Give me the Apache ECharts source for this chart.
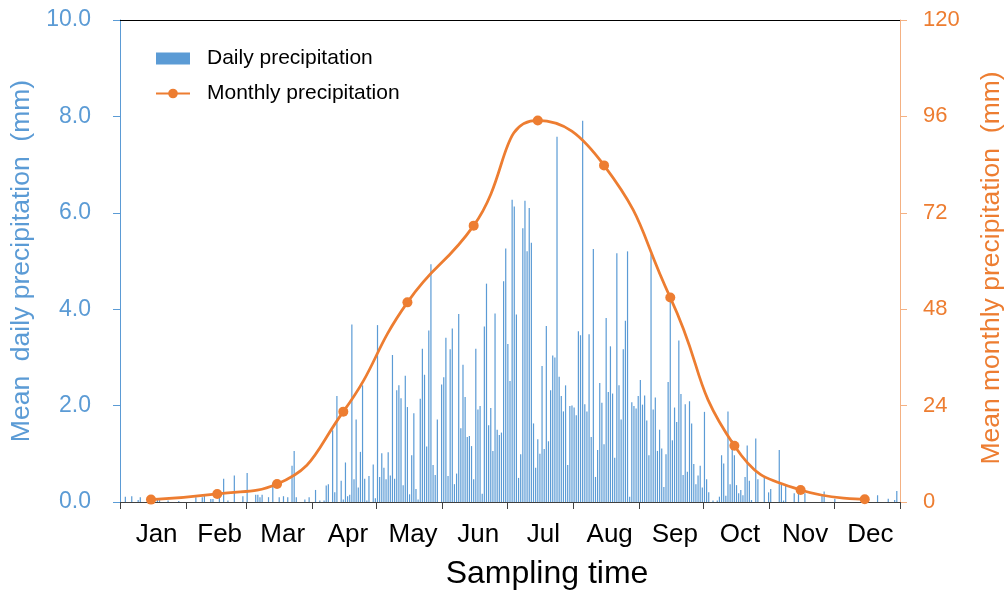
<!DOCTYPE html>
<html>
<head>
<meta charset="utf-8">
<script src="https://cdn.jsdelivr.net/npm/echarts@6/dist/echarts.min.js"></script>
<style>
  html, body { margin: 0; padding: 0; background: #fff; overflow: hidden; }
  #chart { width: 1005px; height: 590px; }
</style>
</head>
<body>
<div id="chart"></div>
<script>
// ---- Data ----
const months = ['Jan','Feb','Mar','Apr','May','Jun','Jul','Aug','Sep','Oct','Nov','Dec'];
const monthLengths = [31,28,31,30,31,30,31,31,30,31,30,31];

// Daily mean precipitation (mm), one array per month
const dailyJan = [0,0,0.11,0,0,0.12,0,0,0.04,0.1, 0,0,0,0.05,0,0,0,0.05,0.04,0, 0,0,0.03,0,0,0,0,0.02,0,0, 0];
const dailyFeb = [0,0,0,0,0.1,0,0,0.1,0.15,0, 0,0.06,0.06,0,0,0.2,0,0.48,0,0.03, 0,0,0.55,0,0,0,0.12,0];
const dailyMar = [0.6,0,0,0,0.15,0.15,0.1,0.15,0,0, 0.1,0,0.4,0,0,0.1,0,0.12,0,0.1, 0,0.75,1.06,0.1,0,0,0,0.05,0,0.1, 0];
const dailyApr = [0,0.25,0,0.03,0,0.03,0.34,0.37,0,1.49, 0.2,2.2,0,0.44,0.05,0.82,0.12,0.15,3.68,0.47, 1.71,0.3,1.04,2.42,0.48,0.03,0.54,0,0.78,0.08];
const dailyMay = [3.67,0.52,1.01,0.71,0.47,1.03,0.55,3.05,0.48,2.32, 2.42,2.15,0.35,2.62,1.97,0.16,0.97,1.84,0.27,0.05, 2.14,3.18,2.64,1.15,3.56,4.93,0.77,0.56,1.71,0, 2.44];
const dailyJun = [2.59,3.41,0.54,3.17,3.6,0.37,0.59,3.9,1.53,2.85, 2.18,1.35,1.37,1.16,0.47,3.18,1.92,1.99,0.17,3.64, 4.53,1.59,1.95,1.06,3.91,1.5,1.39,1.44,4.58,5.26];
const dailyJul = [3.28,2.51,6.27,6.13,3.89,0.5,0.99,5.68,6.25,5.2, 6.1,5.38,1.63,0.71,1.3,1.0,2.82,1.1,3.65,1.26, 2.32,3.04,3.0,7.58,2.6,2.2,1.88,2.42,0.77,1.99, 2.0];
const dailyAug = [1.96,1.8,3.54,3.46,7.91,2.03,1.88,3.48,1.35,5.25, 0.52,1.08,2.47,2.06,1.2,3.82,2.28,3.23,2.25,0.92, 5.16,2.42,1.71,3.17,3.76,5.2,0.11,2.07,1.99,1.94, 2.2];
const dailySep = [2.53,2.02,2.21,1.69,0.97,5.15,1.92,2.17,1.06,1.5, 1.11,0.31,0.99,2.49,4.18,1.28,1.96,1.66,3.35,2.24, 0.56,2.03,0.63,2.09,1.63,0.79,0.37,0.55,0.75,0.3];
const dailyOct = [1.87,0.47,0.2,0,0.03,0,0.03,0.11,0.97,0.8, 0.13,1.88,0.37,1.28,0.97,0.35,0.18,0.25,0.14,0.52, 1.17,0.44,0.04,0,1.32,0.47,0,0,0.54,0, 0.2];
const dailyNov = [0.27,0,0,0,1.08,0.37,0.03,0.34,0,0, 0,0.18,0,0.23,0,0,0.18,0,0,0, 0,0,0,0,0.14,0.22,0,0,0,0];
const dailyDec = [0.07,0,0,0,0,0,0,0,0,0, 0,0,0,0,0,0,0,0,0,0, 0.14,0,0,0,0,0.07,0,0,0.04,0.23, 0];

// Monthly mean precipitation (mm), plotted on the 15th of each month
const monthlyPrecip = [0.6, 2.0, 4.5, 22.5, 49.7, 68.8, 95.0, 83.8, 50.9, 14.0, 3.0, 0.7];
const monthlyDayOfMonth = 15;

// Axis tick labels
const leftTicks = [0, 2, 4, 6, 8, 10];
const rightTicks = [0, 24, 48, 72, 96, 120];

// ---- Build series from the arrays ----
const dailyAll = [].concat(dailyJan, dailyFeb, dailyMar, dailyApr, dailyMay, dailyJun,
                           dailyJul, dailyAug, dailySep, dailyOct, dailyNov, dailyDec);
const monthStarts = [0];
monthLengths.forEach((l, i) => monthStarts.push(monthStarts[i] + l));
const monthMids = months.map((m, i) => (monthStarts[i] + monthStarts[i + 1]) / 2);
const barData = dailyAll.map((v, d) => [d + 0.5, v]);
const lineData = monthlyPrecip.map((v, i) => [monthStarts[i] + monthlyDayOfMonth - 0.5, v]);

const FONT = 'Liberation Sans, Arial, sans-serif';
const BLUE = '#5B9BD5';
const ORANGE = '#ED7D31';

const chart = echarts.init(document.getElementById('chart'), null, { renderer: 'canvas' });
chart.setOption({
  animation: false,
  textStyle: { fontFamily: FONT },
  grid: { left: 120, right: 105, top: 20, bottom: 88, outerBoundsMode: 'none', containLabel: false },
  legend: {
    orient: 'vertical',
    left: 150,
    top: 43,
    itemWidth: 34,
    itemHeight: 12,
    itemGap: 14,
    textStyle: { fontSize: 21, color: '#000', fontFamily: FONT, padding: [0, 0, 0, 12] },
    data: [
      { name: 'Daily precipitation', icon: 'rect' },
      { name: 'Monthly precipitation' }
    ]
  },
  xAxis: [
    {
      type: 'value', min: 0, max: 365, position: 'bottom',
      axisLine: { show: true, onZero: false, lineStyle: { color: '#404040', width: 1 } },
      axisTick: { show: true, customValues: monthStarts, length: 7, lineStyle: { color: '#404040' } },
      axisLabel: {
        customValues: monthMids,
        formatter: v => months[monthMids.indexOf(v)] || '',
        fontSize: 26, color: '#000', margin: 20, fontFamily: FONT, padding: [0, 0, 0, 7]
      },
      splitLine: { show: false },
      name: 'Sampling time', nameLocation: 'middle', nameGap: 56,
      nameTextStyle: { fontSize: 32, color: '#000', fontFamily: FONT, padding: [0, 0, 0, 74] }
    },
    {
      type: 'value', min: 0, max: 365, position: 'top',
      axisLine: { show: true, onZero: false, lineStyle: { color: '#000', width: 1 } },
      axisTick: { show: false }, axisLabel: { show: false }, splitLine: { show: false }
    }
  ],
  yAxis: [
    {
      type: 'value', min: leftTicks[0], max: leftTicks[leftTicks.length - 1], interval: 2, position: 'left',
      axisLine: { show: true, onZero: false, lineStyle: { color: BLUE, width: 1 } },
      axisTick: { show: true, length: 7, lineStyle: { color: BLUE } },
      axisLabel: { formatter: v => v.toFixed(1), fontSize: 23, color: BLUE, margin: 29, fontFamily: FONT },
      splitLine: { show: false },
      name: 'Mean  daily precipitation  (mm)', nameLocation: 'middle', nameGap: 82,
      nameTextStyle: { fontSize: 26.5, color: BLUE, fontFamily: FONT }
    },
    {
      type: 'value', min: rightTicks[0], max: rightTicks[rightTicks.length - 1], interval: 24, position: 'right',
      axisLine: { show: true, onZero: false, lineStyle: { color: '#F4B183', width: 1 } },
      axisTick: { show: true, length: 7, lineStyle: { color: '#F4B183' } },
      axisLabel: { fontSize: 22, color: ORANGE, margin: 23, fontFamily: FONT },
      splitLine: { show: false },
      name: 'Mean monthly precipitation  (mm)', nameLocation: 'middle', nameGap: 78,
      nameTextStyle: { fontSize: 26.5, color: ORANGE, fontFamily: FONT, padding: [0, 14, 0, 0] }
    }
  ],
  series: [
    {
      name: 'Daily precipitation', type: 'bar', xAxisIndex: 0, yAxisIndex: 0,
      data: barData, barWidth: 1.2, itemStyle: { color: BLUE }, z: 2
    },
    {
      name: 'Monthly precipitation', type: 'line', xAxisIndex: 0, yAxisIndex: 1,
      data: lineData, smooth: 0.5, symbol: 'circle', symbolSize: 10,
      lineStyle: { color: ORANGE, width: 2.75 }, itemStyle: { color: ORANGE }, z: 3
    }
  ]
});
</script>
</body>
</html>
